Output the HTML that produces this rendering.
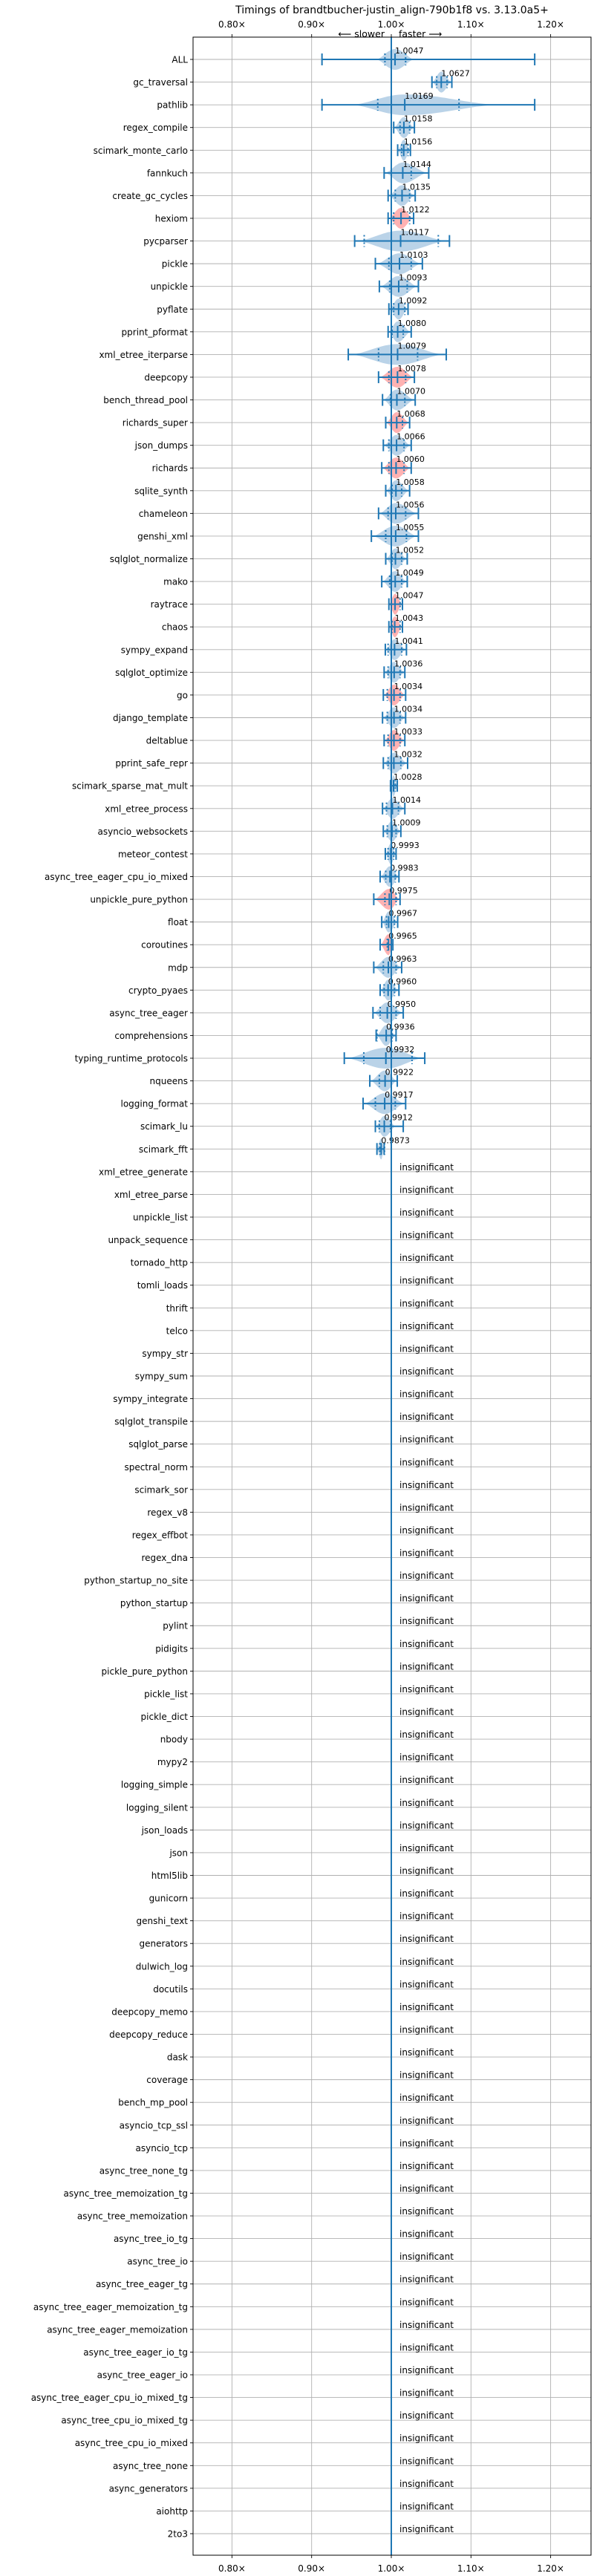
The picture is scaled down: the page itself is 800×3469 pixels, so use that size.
<!DOCTYPE html>
<html><head><meta charset="utf-8">
<style>
html,body{margin:0;padding:0;background:#fff;}
svg{display:block;font-family:"DejaVu Sans","Liberation Sans",sans-serif;}
</style></head>
<body>
<svg id="chart" width="800" height="3469" viewBox="0 0 800 3469" xmlns="http://www.w3.org/2000/svg">
<text x="528" y="18" font-size="14" text-anchor="middle" fill="#000">Timings of brandtbucher-justin_align-790b1f8 vs. 3.13.0a5+</text>
<text x="518" y="50" font-size="12.5" text-anchor="end" fill="#000">⟵ slower</text>
<text x="537" y="50" font-size="12.5" text-anchor="start" fill="#000">faster ⟶</text>
<rect x="260" y="50" width="536" height="3391" fill="#fff"/>
<g id="grid"></g>
<g id="marks"></g>
<g id="axes"></g>
</svg>
<script>
const benchmarks = ["ALL","gc_traversal","pathlib","regex_compile","scimark_monte_carlo","fannkuch","create_gc_cycles","hexiom","pycparser","pickle","unpickle","pyflate","pprint_pformat","xml_etree_iterparse","deepcopy","bench_thread_pool","richards_super","json_dumps","richards","sqlite_synth","chameleon","genshi_xml","sqlglot_normalize","mako","raytrace","chaos","sympy_expand","sqlglot_optimize","go","django_template","deltablue","pprint_safe_repr","scimark_sparse_mat_mult","xml_etree_process","asyncio_websockets","meteor_contest","async_tree_eager_cpu_io_mixed","unpickle_pure_python","float","coroutines","mdp","crypto_pyaes","async_tree_eager","comprehensions","typing_runtime_protocols","nqueens","logging_format","scimark_lu","scimark_fft","xml_etree_generate","xml_etree_parse","unpickle_list","unpack_sequence","tornado_http","tomli_loads","thrift","telco","sympy_str","sympy_sum","sympy_integrate","sqlglot_transpile","sqlglot_parse","spectral_norm","scimark_sor","regex_v8","regex_effbot","regex_dna","python_startup_no_site","python_startup","pylint","pidigits","pickle_pure_python","pickle_list","pickle_dict","nbody","mypy2","logging_simple","logging_silent","json_loads","json","html5lib","gunicorn","genshi_text","generators","dulwich_log","docutils","deepcopy_memo","deepcopy_reduce","dask","coverage","bench_mp_pool","asyncio_tcp_ssl","asyncio_tcp","async_tree_none_tg","async_tree_memoization_tg","async_tree_memoization","async_tree_io_tg","async_tree_io","async_tree_eager_tg","async_tree_eager_memoization_tg","async_tree_eager_memoization","async_tree_eager_io_tg","async_tree_eager_io","async_tree_eager_cpu_io_mixed_tg","async_tree_cpu_io_mixed_tg","async_tree_cpu_io_mixed","async_tree_none","async_generators","aiohttp","2to3"];
const medians = [1.0047,1.0627,1.0169,1.0158,1.0156,1.0144,1.0135,1.0122,1.0117,1.0103,1.0093,1.0092,1.0080,1.0079,1.0078,1.0070,1.0068,1.0066,1.0060,1.0058,1.0056,1.0055,1.0052,1.0049,1.0047,1.0043,1.0041,1.0036,1.0034,1.0034,1.0033,1.0032,1.0028,1.0014,1.0009,0.9993,0.9983,0.9975,0.9967,0.9965,0.9963,0.9960,0.9950,0.9936,0.9932,0.9922,0.9917,0.9912,0.9873];
const mins = [0.913,1.051,0.913,1.003,1.008,0.991,0.996,0.996,0.954,0.980,0.985,0.997,0.996,0.946,0.984,0.989,0.993,0.990,0.988,0.993,0.984,0.975,0.993,0.988,0.997,0.997,0.9925,0.991,0.990,0.989,0.991,0.990,0.999,0.989,0.990,0.9925,0.986,0.978,0.988,0.986,0.978,0.986,0.977,0.981,0.941,0.973,0.9646,0.980,0.982];
const maxs = [1.180,1.076,1.180,1.029,1.024,1.047,1.030,1.028,1.073,1.039,1.034,1.021,1.025,1.069,1.029,1.030,1.023,1.025,1.025,1.023,1.034,1.034,1.020,1.020,1.014,1.014,1.019,1.017,1.018,1.018,1.017,1.0205,1.0075,1.017,1.012,1.006,1.0096,1.011,1.008,1.002,1.013,1.0096,1.015,1.006,1.042,1.0075,1.018,1.015,0.991];
const q1s = [0.992,1.057,0.983,1.011,1.013,1.000,1.005,1.003,0.966,0.997,0.998,1.003,1.001,0.984,0.997,0.999,1.000,0.997,0.997,1.001,0.996,0.993,1.001,0.998,1.000,1.001,0.996,0.996,0.995,0.995,0.996,0.996,1.000,0.994,0.995,0.996,0.993,0.992,0.994,0.995,0.990,0.991,0.986,0.982,0.9655,0.985,0.980,0.985,0.9855];
const q3s = [1.018,1.070,1.085,1.023,1.021,1.025,1.023,1.023,1.059,1.025,1.020,1.017,1.015,1.033,1.018,1.017,1.014,1.016,1.016,1.013,1.018,1.019,1.013,1.013,1.011,1.011,1.013,1.011,1.011,1.011,1.011,1.012,1.005,1.009,1.006,1.003,1.005,1.006,1.004,1.000,1.006,1.004,1.006,1.001,1.026,1.000,1.005,0.999,0.9915];
const violinLo = [0.980,1.051,0.947,1.003,1.008,0.991,0.996,0.996,0.954,0.980,0.985,0.997,0.996,0.946,0.984,0.989,0.993,0.990,0.988,0.993,0.984,0.975,0.993,0.988,0.997,0.997,0.9925,0.991,0.990,0.989,0.991,0.990,0.999,0.989,0.990,0.9925,0.986,0.978,0.988,0.986,0.978,0.986,0.977,0.981,0.941,0.973,0.9646,0.980,0.982];
const violinHi = [1.030,1.076,1.140,1.029,1.024,1.047,1.030,1.028,1.073,1.039,1.034,1.021,1.025,1.069,1.029,1.030,1.023,1.025,1.025,1.023,1.034,1.034,1.020,1.020,1.014,1.014,1.019,1.017,1.018,1.018,1.017,1.0205,1.0075,1.017,1.012,1.006,1.0096,1.011,1.008,1.002,1.013,1.0096,1.015,1.006,1.042,1.0075,1.018,1.006,0.991];
const slowerRows = ["hexiom","deepcopy","richards_super","richards","raytrace","chaos","go","deltablue","unpickle_pure_python","coroutines"];
const xTicks = [0.80,0.90,1.00,1.10,1.20];
const xTickLabels = ["0.80×","0.90×","1.00×","1.10×","1.20×"];

const NS = "http://www.w3.org/2000/svg";
const X0 = 527, PX_PER_UNIT = 1073;
const Y0 = 80, ROW = (3412 - 80) / 109;
const AX_L = 260, AX_R = 796, AX_T = 50, AX_B = 3441;
const BLUE = "#1f77b4";
function xScale(v){ return X0 + (v - 1) * PX_PER_UNIT; }
function yScale(i){ return Y0 + i * ROW; }
function mk(tag, attrs, parent){
  const e = document.createElementNS(NS, tag);
  for (const k in attrs) e.setAttribute(k, attrs[k]);
  parent.appendChild(e);
  return e;
}
const grid = document.getElementById("grid");
const marks = document.getElementById("marks");
const axes = document.getElementById("axes");

xTicks.forEach((t, i) => {
  const l = mk("line", {x1: xScale(t), x2: xScale(t), y1: AX_T, y2: AX_B, stroke: "#b0b0b0", "stroke-width": 0.9}, grid);
  
  
  const tt = mk("line", {x1: xScale(t), x2: xScale(t), y1: AX_T - 4, y2: AX_T, stroke: "#000", "stroke-width": 0.9}, axes);
  
  
  const tb = mk("line", {x1: xScale(t), x2: xScale(t), y1: AX_B, y2: AX_B + 4, stroke: "#000", "stroke-width": 0.9}, axes);
  
  
  const lt = mk("text", {x: xScale(t), y: 37, "font-size": 12, "text-anchor": "middle", fill: "#000"}, axes);
  lt.textContent = xTickLabels[i];
  
  
  const lb = mk("text", {x: xScale(t), y: 3463, "font-size": 12, "text-anchor": "middle", fill: "#000"}, axes);
  lb.textContent = xTickLabels[i];
  
  
});
benchmarks.forEach((b, i) => {
  const y = yScale(i);
  const g = mk("line", {x1: AX_L, x2: AX_R, y1: y, y2: y, stroke: "#b0b0b0", "stroke-width": 0.9}, grid);
  
  
  const tk = mk("line", {x1: AX_L - 4, x2: AX_L, y1: y, y2: y, stroke: "#000", "stroke-width": 0.9}, axes);
  
  
  const lab = mk("text", {x: AX_L - 7, y: y + 4.5, "font-size": 12, "text-anchor": "end", fill: "#000"}, axes);
  lab.textContent = b;
  
  
});

const HH = 14, CAP = 8;
function halfH(v, m, lo, hi){
  const t = v < m ? (m - v) / Math.max(m - lo, 1e-6) : (v - m) / Math.max(hi - m, 1e-6);
  return HH * Math.pow(Math.max(0, 1 - t * t), 2.2);
}
medians.forEach((m, i) => {
  const y = yScale(i);
  const name = benchmarks[i];
  const pink = slowerRows.includes(name);
  const lo = violinLo[i], hi = violinHi[i];
  const pts = [];
  const N = 40;
  for (let k = 0; k <= N; k++) {
    const v = lo + (hi - lo) * k / N;
    pts.push([xScale(v), y - halfH(v, m, lo, hi)]);
  }
  for (let k = N; k >= 0; k--) {
    const v = lo + (hi - lo) * k / N;
    pts.push([xScale(v), y + halfH(v, m, lo, hi)]);
  }
  const vp = mk("polygon", {points: pts.map(p => p[0].toFixed(1) + "," + p[1].toFixed(1)).join(" "), fill: pink ? "#ffb2b2" : "#bad3e8"}, marks);
  
  
  const wl = mk("line", {x1: xScale(mins[i]), x2: xScale(maxs[i]), y1: y, y2: y, stroke: BLUE, "stroke-width": 2}, marks);
  
  
  [mins[i], maxs[i], m].forEach(v => {
    const c = mk("line", {x1: xScale(v), x2: xScale(v), y1: y - CAP, y2: y + CAP, stroke: BLUE, "stroke-width": 2}, marks);
    
    
  });
  [q1s[i], q3s[i]].forEach(v => {
    const q = mk("line", {x1: xScale(v), x2: xScale(v), y1: y - CAP, y2: y + CAP, stroke: BLUE, "stroke-width": 2, "stroke-dasharray": "2,3"}, marks);
    
    
  });
  const t = mk("text", {x: xScale(m), y: y - 8, "font-size": 11, fill: "#000"}, marks);
  t.textContent = m.toFixed(4);
  
  
});
for (let i = medians.length; i < benchmarks.length; i++) {
  const y = yScale(i);
  const t = mk("text", {x: 538, y: y - 2, "font-size": 12, fill: "#000"}, marks);
  t.textContent = "insignificant";
  
  
}
const ref = mk("line", {x1: xScale(1), x2: xScale(1), y1: AX_T, y2: AX_B, stroke: BLUE, "stroke-width": 2}, marks);


const fr = mk("rect", {x: AX_L, y: AX_T, width: AX_R - AX_L, height: AX_B - AX_T, fill: "none", stroke: "#000", "stroke-width": 1}, axes);


</script>
</body></html>
